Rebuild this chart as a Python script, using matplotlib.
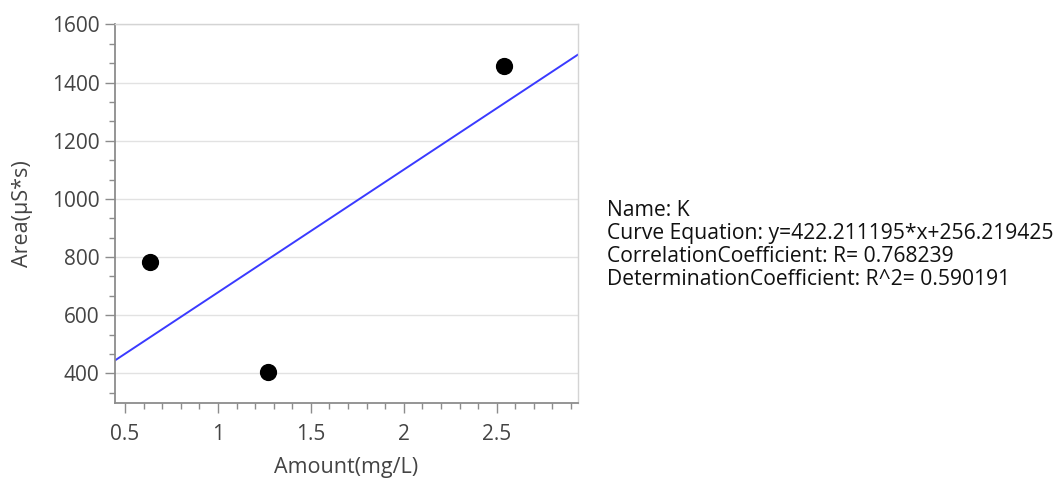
import matplotlib

matplotlib.use("Agg")
import numpy as np
from matplotlib import pyplot as plt
from matplotlib.ticker import AutoMinorLocator, MultipleLocator

# calibration points (K)
amount = [0.635, 1.27, 2.54]
area = [782.3, 405.4, 1457.6]

slope = 422.211195
intercept = 256.219425
corr_r = 0.768239
det_r2 = 0.590191

x_limits = (0.446, 2.935)
y_limits = (299, 1600)

plt.rcParams["font.family"] = ["Open Sans", "DejaVu Sans"]

fig = plt.figure(figsize=(10.56, 4.8), dpi=100)
ax = fig.add_axes([0.1089, 0.161, 0.438, 0.788])

ax.scatter(amount, area, s=130, color="black", zorder=3)
line_x = np.array(x_limits)
ax.plot(line_x, slope * line_x + intercept, color="#3a3aff", linewidth=1.4, zorder=2)

ax.set_xlim(*x_limits)
ax.set_ylim(*y_limits)
ax.xaxis.set_major_locator(MultipleLocator(0.5))
ax.xaxis.set_minor_locator(AutoMinorLocator(5))
ax.yaxis.set_major_locator(MultipleLocator(200))
ax.yaxis.set_minor_locator(AutoMinorLocator(3))
ax.xaxis.set_major_formatter(lambda v, pos: f"{v:g}")

ax.grid(True, axis="y", which="major", color="#e2e2e2", linewidth=1.0)
ax.set_axisbelow(True)
for side in ("left", "bottom"):
    ax.spines[side].set_color("#8c8c8c")
    ax.spines[side].set_linewidth(1.3)
for side in ("top", "right"):
    ax.spines[side].set_color("#d4d4d4")
    ax.spines[side].set_linewidth(1.0)

ax.tick_params(axis="both", which="major", direction="out", length=7, width=1.0,
               color="#8c8c8c", labelsize=15, labelcolor="#444444", pad=4)
ax.tick_params(axis="both", which="minor", direction="out", length=4, width=1.0,
               color="#8c8c8c")
ax.tick_params(axis="x", which="major", pad=8)

ax.set_xlabel("Amount(mg/L)", fontsize=15.5, color="#444444", labelpad=9)
ax.set_ylabel("Area(µS*s)", fontsize=15.5, color="#444444", labelpad=14)

info = [
    "Name: K",
    f"Curve Equation: y={slope:.6f}*x+{intercept:.6f}",
    f"CorrelationCoefficient: R= {corr_r:.6f}",
    f"DeterminationCoefficient: R^2= {det_r2:.6f}",
]
fig.text(607 / 1056, 1 - 200 / 480, "\n".join(info), fontsize=15.2, color="#111111",
         ha="left", va="top", linespacing=1.13)

fig.savefig("out.png", dpi=100)
